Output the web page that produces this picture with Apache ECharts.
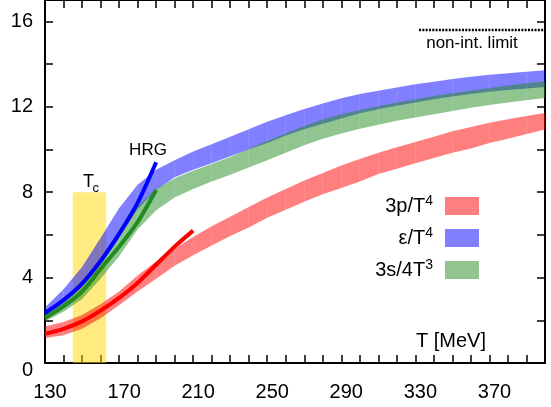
<!DOCTYPE html>
<html><head><meta charset="utf-8">
<script src="https://cdn.jsdelivr.net/npm/echarts@6/dist/echarts.min.js"></script>
<style>html,body{margin:0;padding:0;background:#fff}#c{width:551px;height:407px}</style>
</head><body><div id="c"></div>
<script>
// ---- data ----
const temps = [130,140,150,160,170,180,190,200,210,220,230,240,250,260,270,280,290,300,310,320,330,340,350,360,370,380,390,400];
// 3p/T^4 band
const pLow  = [1.17,1.30,1.60,2.10,2.70,3.35,3.95,4.55,5.05,5.50,5.95,6.35,6.80,7.18,7.55,7.90,8.20,8.50,8.85,9.10,9.35,9.60,9.85,10.05,10.30,10.50,10.72,10.93];
const pHigh = [1.71,1.92,2.25,2.75,3.35,4.10,4.75,5.35,5.90,6.40,6.85,7.30,7.75,8.15,8.55,8.90,9.25,9.55,9.85,10.10,10.35,10.60,10.85,11.05,11.25,11.42,11.57,11.71];
// e/T^4 band
const eLow  = [2.15,2.75,3.55,4.60,5.85,7.20,8.10,8.70,9.05,9.35,9.68,10.00,10.30,10.65,10.95,11.20,11.45,11.70,11.88,12.05,12.20,12.35,12.48,12.60,12.70,12.78,12.86,12.93];
const eHigh = [2.60,3.45,4.50,5.85,7.25,8.35,9.05,9.50,9.90,10.25,10.60,10.95,11.30,11.60,11.90,12.15,12.40,12.60,12.75,12.90,13.05,13.17,13.30,13.40,13.50,13.57,13.64,13.71];
// 3s/4T^3 band
const sLow  = [1.95,2.40,3.00,3.95,5.00,6.25,7.15,7.75,8.15,8.50,8.82,9.15,9.50,9.85,10.20,10.50,10.75,10.97,11.16,11.35,11.50,11.65,11.80,11.95,12.08,12.20,12.30,12.41];
const sHigh = [2.40,2.95,3.70,4.85,5.95,7.35,8.15,8.65,9.00,9.32,9.65,10.02,10.40,10.75,11.10,11.40,11.65,11.85,12.02,12.20,12.35,12.50,12.63,12.75,12.88,13.00,13.10,13.19];
// HRG curves
const hrgT      = [130,140,150,160,170,180,190];
const hrgE      = [2.34,2.95,3.72,4.78,6.05,7.50,9.40];
const hrgS      = [2.11,2.65,3.35,4.40,5.45,6.60,8.10];
const hrgPT     = [130,140,150,160,170,180,190,200,210];
const hrgP      = [1.37,1.60,1.95,2.45,3.05,3.75,4.60,5.45,6.20];
// Tc band and non-interacting limit
const tcRange   = [145,163];
const tcTop     = 8;
const limitT    = [332,400];
const limitVal  = 15.6;
// tick labels
const xTickLabels = [130,170,210,250,290,330,370];
const yTickLabels = [0,4,8,12,16];
const seriesNames = ['3p/T4','ε/T4','3s/4T3'];

const FONT = 'Liberation Sans, Arial, Helvetica, sans-serif';
const chart = echarts.init(document.getElementById('c'), null, {renderer:'canvas'});

function bandSeries(name, lo, hi, color, z) {
  return {
    type:'custom', name: name, z: z,
    data: temps.map((t,i)=>[t, lo[i], hi[i]]),
    encode:{x:0, y:[1,2]},
    itemStyle:{color: color},
    renderItem: function(params, api){
      const i = params.dataIndex;
      if (i >= temps.length-1) return null;
      const pts = [api.coord([temps[i], lo[i]]), api.coord([temps[i], hi[i]]),
                   api.coord([temps[i+1], hi[i+1]]), api.coord([temps[i+1], lo[i+1]])];
      return {type:'polygon', shape:{points:pts}, style:{fill: color}};
    }
  };
}
function hrgSeries(xs, ys, color) {
  return {type:'line', data: xs.map((t,i)=>[t, ys[i]]), showSymbol:false, smooth:0.3, z:5,
    lineStyle:{color: color, width:4}, itemStyle:{color: color}, silent:true};
}
function axisCommon(extra){
  return Object.assign({
    type:'value', splitLine:{show:false},
    axisLine:{show:true, onZero:false, lineStyle:{color:'#000', width:2}},
    axisTick:{show:true, inside:true, length:8, lineStyle:{color:'#000', width:1.5}}
  }, extra);
}
const xCommon = {min:130, max:400, interval:10};
const yCommon = {min:0, max:17, interval:2};

chart.setOption({
  animation:false,
  grid:{left:45, right:6, top:0, bottom:44, show:false},
  xAxis:[
    axisCommon(Object.assign({position:'bottom', axisLabel:{
      show:true, margin:19, fontSize:20, fontFamily:FONT, color:'#000', padding:[0,0,0,10],
      formatter: v => xTickLabels.includes(v) ? String(v) : ''}}, xCommon)),
    axisCommon(Object.assign({position:'top', axisLabel:{show:false}}, xCommon))
  ],
  yAxis:[
    axisCommon(Object.assign({position:'left', axisLabel:{
      show:true, margin:12, fontSize:20, fontFamily:FONT, color:'#000',
      formatter: v => (yTickLabels.includes(v) ? (v===0 ? '{z|0}' : String(v)) : ''),
      rich:{z:{fontSize:20, fontFamily:FONT, color:'#000', padding:[14,0,0,0]}}}}, yCommon)),
    axisCommon(Object.assign({position:'right', axisLabel:{show:false}}, yCommon))
  ],
  legend:{
    data: seriesNames, orient:'vertical', align:'right', right:72, top:194, padding:0,
    itemWidth:34, itemHeight:18, itemGap:10, icon:'rect', selectedMode:false,
    formatter: function(name){
      if (name === '3p/T4') return '{t|3p/T}{sup|4}';
      if (name === 'ε/T4') return '{t|ε/T}{sup|4}';
      return '{t|3s/4T}{sup|3}';
    },
    textStyle:{fontSize:20, fontFamily:FONT, color:'#000', padding:[0,7,0,0],
      rich:{t:{fontSize:20, fontFamily:FONT, color:'#000', lineHeight:24},
            sup:{fontSize:14, fontFamily:FONT, color:'#000', lineHeight:14, verticalAlign:'top'}}}
  },
  series:[
    {type:'custom', name:'Tc', z:1, silent:true, data:[[tcRange[0], tcRange[1], tcTop]],
      renderItem: function(params, api){
        const a = api.coord([api.value(0), api.value(2)]);
        const b = api.coord([api.value(1), 0]);
        return {type:'rect', shape:{x:a[0], y:a[1], width:b[0]-a[0], height:b[1]-a[1]},
                style:{fill:'rgba(255,215,0,0.5)'}};
      }},
    bandSeries(seriesNames[0], pLow, pHigh, 'rgba(255,0,0,0.5)', 2),
    bandSeries(seriesNames[1], eLow, eHigh, 'rgba(0,0,255,0.5)', 3),
    bandSeries(seriesNames[2], sLow, sHigh, 'rgba(34,139,34,0.5)', 4),
    hrgSeries(hrgT, hrgE, '#0000ff'),
    hrgSeries(hrgT, hrgS, '#228b22'),
    hrgSeries(hrgPT, hrgP, '#ff0000'),
    {type:'line', data: limitT.map(t=>[t, limitVal]), showSymbol:false, z:5, silent:true,
      lineStyle:{color:'#000', width:2.5, type:[2,1.3]}}
  ],
  graphic:[
    {type:'text', x:148, y:150, style:{text:'HRG', fontSize:17, fontFamily:FONT, fill:'#000', align:'center', verticalAlign:'middle'}},
    {type:'text', x:83, y:182, style:{text:'T', fontSize:18, fontFamily:FONT, fill:'#000', align:'left', verticalAlign:'middle'}},
    {type:'text', x:92.5, y:188.5, style:{text:'c', fontSize:13, fontFamily:FONT, fill:'#000', align:'left', verticalAlign:'middle'}},
    {type:'text', x:472, y:43, style:{text:'non-int. limit', fontSize:17, fontFamily:FONT, fill:'#000', align:'center', verticalAlign:'middle'}},
    {type:'text', x:416, y:341, style:{text:'T [MeV]', fontSize:20, fontFamily:FONT, fill:'#000', align:'left', verticalAlign:'middle'}}
  ]
});
</script></body></html>
